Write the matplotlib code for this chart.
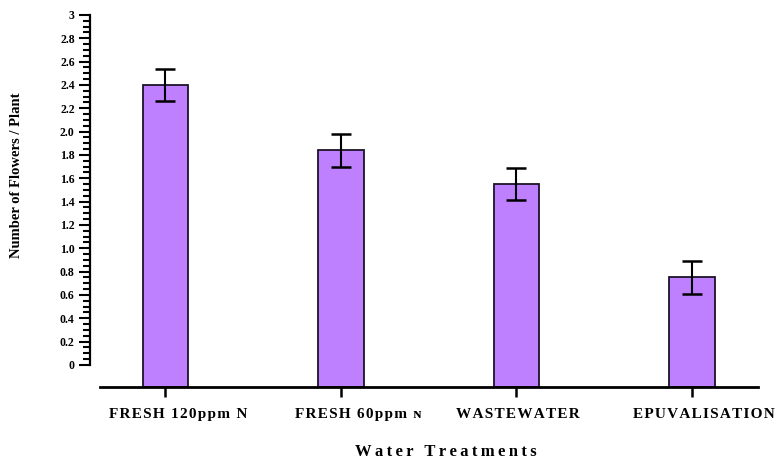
import numpy as np
import matplotlib as mpl
mpl.use('Agg')
import matplotlib.pyplot as plt
from matplotlib.ticker import FixedLocator
from matplotlib.transforms import ScaledTranslation

treatments = ["FRESH 120ppm N", "FRESH 60ppm \u0274", "WASTEWATER", "EPUVALISATION"]
flowers = [2.40, 1.84, 1.55, 0.75]
errors = [0.14, 0.14, 0.14, 0.14]
ytick_vals = [0, 0.2, 0.4, 0.6, 0.8, 1.0, 1.2, 1.4, 1.6, 1.8, 2.0, 2.2, 2.4, 2.6, 2.8, 3]
ytick_text = ["0", "0.2", "0.4", "0.6", "0.8", "1.0", "1.2", "1.4", "1.6", "1.8",
              "2.0", "2.2", "2.4", "2.6", "2.8", "3"]

serif = ['Liberation Serif', 'DejaVu Serif']
y_floor = -0.189  # x axis line sits a little under zero
label_shift = [13, 17, 1, 12]  # px, category labels are not quite centred on ticks


def spaced(s, gap):
    # poor man's letter spacing
    return gap.join(s)


fig = plt.figure(figsize=(7.79, 4.61), dpi=100)
ax = fig.add_axes([100 / 779, 74 / 461, 658 / 779, 372 / 461])

x = np.arange(len(treatments))
heights = [v - y_floor for v in flowers]
ax.bar(x, heights, bottom=y_floor, width=0.257, color='#bf80ff', edgecolor='#1c1428',
       linewidth=1.3, zorder=2)
ax.errorbar(x, flowers, yerr=errors, fmt='none', ecolor='black', elinewidth=1.5,
            capsize=7, capthick=1.8, zorder=3)

ax.set_xlim(-0.373, 3.376)
ax.set_ylim(y_floor, 3)

for side in ['top', 'right']:
    ax.spines[side].set_visible(False)
ax.spines['left'].set_position(('outward', 7.2))
ax.spines['left'].set_bounds(0, 3)
ax.spines['left'].set_linewidth(1.6)
ax.spines['bottom'].set_linewidth(2.0)

ax.set_yticks(ytick_vals)
ax.set_yticklabels(ytick_text, family=serif, fontweight='bold', fontsize=8.5)
ax.yaxis.set_minor_locator(FixedLocator(np.arange(0, 3.001, 0.05)))
ax.tick_params(axis='y', which='major', length=8, width=1.5, pad=3)
ax.tick_params(axis='y', which='minor', length=5, width=1.5)

ax.set_xticks(x)
ax.set_xticklabels([spaced(t, '\u200a') for t in treatments], family=serif,
                   fontweight='bold', fontsize=11)
ax.tick_params(axis='x', length=7, width=1.8, pad=8)
for lbl, dx in zip(ax.get_xticklabels(), label_shift):
    lbl.set_transform(lbl.get_transform() + ScaledTranslation(dx / 100, 0, fig.dpi_scale_trans))

ax.set_xlabel(spaced("Water Treatments", '\u2009'), family=serif, fontweight='bold',
              fontsize=12)
ax.xaxis.set_label_coords(0.526, -0.152)
fig.text(17 / 779, 1 - 175 / 461, "Number of Flowers / Plant", family=serif,
         fontweight='bold', fontsize=10.5, rotation=90, ha='center', va='center')

fig.savefig("out.png", dpi=100)
